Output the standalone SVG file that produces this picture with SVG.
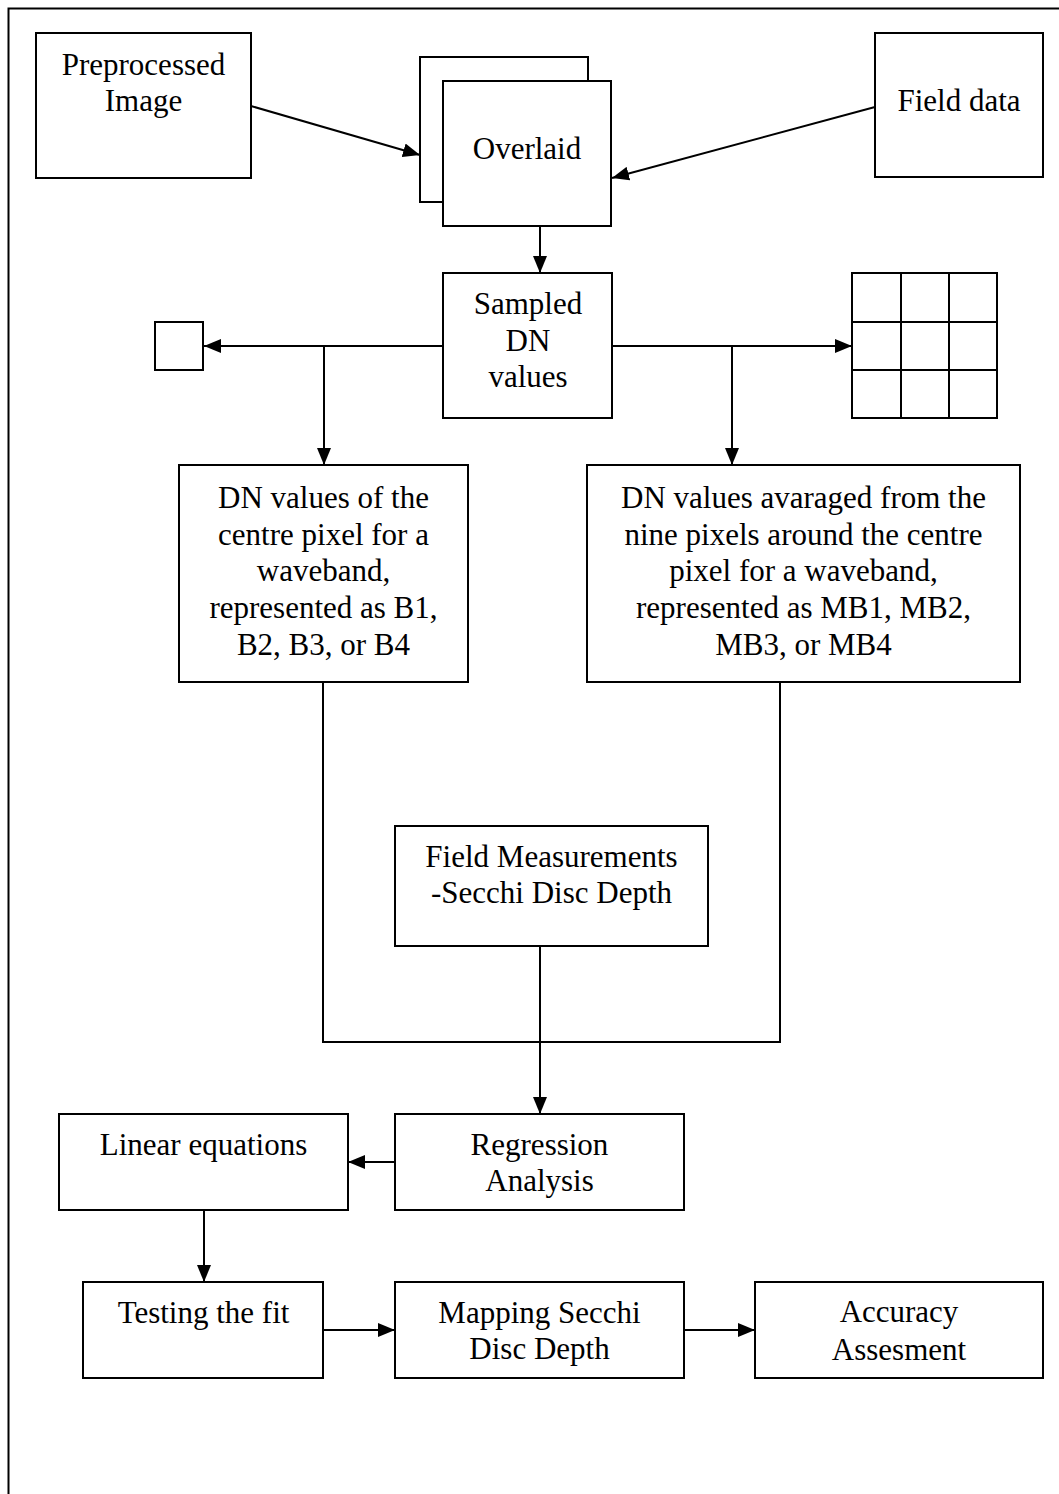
<svg xmlns="http://www.w3.org/2000/svg" width="1059" height="1494" viewBox="0 0 1059 1494">
<style>
.box{fill:#fff;stroke:#000;stroke-width:2}
.ln{fill:none;stroke:#000;stroke-width:2}
.t{font-family:"Liberation Serif","Times New Roman",serif;font-size:31px;fill:#000;text-anchor:middle}
</style>
<defs>
<marker id="ah" markerUnits="userSpaceOnUse" markerWidth="18" markerHeight="14" viewBox="0 0 18 14" refX="17" refY="7" orient="auto">
<path d="M0,0 L17,7 L0,14 Z" fill="#000"/>
</marker>
</defs>
<rect width="1059" height="1494" fill="#fff"/>
<rect x="8.5" y="8.5" width="1100" height="1600" class="ln"/>
<g id="connectors">
<line x1="251" y1="106" x2="420" y2="155" class="ln" marker-end="url(#ah)"/>
<line x1="875" y1="107" x2="612" y2="178" class="ln" marker-end="url(#ah)"/>
<line x1="540" y1="226" x2="540" y2="273" class="ln" marker-end="url(#ah)"/>
<line x1="443" y1="346" x2="204" y2="346" class="ln" marker-end="url(#ah)"/>
<line x1="324" y1="346" x2="324" y2="465" class="ln" marker-end="url(#ah)"/>
<line x1="612" y1="346" x2="852" y2="346" class="ln" marker-end="url(#ah)"/>
<line x1="732" y1="346" x2="732" y2="465" class="ln" marker-end="url(#ah)"/>
<polyline points="323,682 323,1042 780,1042 780,682" class="ln"/>
<line x1="540" y1="946" x2="540" y2="1114" class="ln" marker-end="url(#ah)"/>
<line x1="395" y1="1162" x2="348" y2="1162" class="ln" marker-end="url(#ah)"/>
<line x1="204" y1="1210" x2="204" y2="1282" class="ln" marker-end="url(#ah)"/>
<line x1="323" y1="1330" x2="395" y2="1330" class="ln" marker-end="url(#ah)"/>
<line x1="684" y1="1330" x2="755" y2="1330" class="ln" marker-end="url(#ah)"/>
</g>
<g id="preprocessed">
<rect x="36" y="33" width="215" height="145" class="box"/>
<text class="t" x="143.5" y="75">Preprocessed</text>
<text class="t" x="143.5" y="111">Image</text>
</g>
<g id="overlaid">
<rect x="420" y="57" width="168" height="145" class="box"/>
<rect x="443" y="81" width="168" height="145" class="box"/>
<text class="t" x="527" y="159">Overlaid</text>
</g>
<g id="fielddata">
<rect x="875" y="33" width="168" height="144" class="box"/>
<text class="t" x="959" y="111">Field data</text>
</g>
<g id="sampled">
<rect x="443" y="273" width="169" height="145" class="box"/>
<text class="t" x="528" y="314">Sampled</text>
<text class="t" x="528" y="351">DN</text>
<text class="t" x="528" y="387">values</text>
</g>
<g id="pixel">
<rect x="155" y="322" width="48" height="48" class="box"/>
</g>
<g id="grid">
<rect x="852" y="273" width="145" height="145" class="box"/>
<line x1="901" y1="273" x2="901" y2="418" class="ln"/>
<line x1="949" y1="273" x2="949" y2="418" class="ln"/>
<line x1="852" y1="322" x2="997" y2="322" class="ln"/>
<line x1="852" y1="370" x2="997" y2="370" class="ln"/>
</g>
<g id="dncentre">
<rect x="179" y="465" width="289" height="217" class="box"/>
<text class="t" x="323.5" y="508">DN values of the</text>
<text class="t" x="323.5" y="545">centre pixel for a</text>
<text class="t" x="323.5" y="581">waveband,</text>
<text class="t" x="323.5" y="618">represented as B1,</text>
<text class="t" x="323.5" y="655">B2, B3, or B4</text>
</g>
<g id="dnnine">
<rect x="587" y="465" width="433" height="217" class="box"/>
<text class="t" x="803.5" y="508">DN values avaraged from the</text>
<text class="t" x="803.5" y="545">nine pixels around the centre</text>
<text class="t" x="803.5" y="581">pixel for a waveband,</text>
<text class="t" x="803.5" y="618">represented as MB1, MB2,</text>
<text class="t" x="803.5" y="655">MB3, or MB4</text>
</g>
<g id="fieldmeas">
<rect x="395" y="826" width="313" height="120" class="box"/>
<text class="t" x="551.5" y="867">Field Measurements</text>
<text class="t" x="551.5" y="903">-Secchi Disc Depth</text>
</g>
<g id="regression">
<rect x="395" y="1114" width="289" height="96" class="box"/>
<text class="t" x="539.5" y="1155">Regression</text>
<text class="t" x="539.5" y="1191">Analysis</text>
</g>
<g id="linear">
<rect x="59" y="1114" width="289" height="96" class="box"/>
<text class="t" x="203.5" y="1155">Linear equations</text>
</g>
<g id="testing">
<rect x="83" y="1282" width="240" height="96" class="box"/>
<text class="t" x="203.5" y="1323">Testing the fit</text>
</g>
<g id="mapping">
<rect x="395" y="1282" width="289" height="96" class="box"/>
<text class="t" x="539.5" y="1323">Mapping Secchi</text>
<text class="t" x="539.5" y="1359">Disc Depth</text>
</g>
<g id="accuracy">
<rect x="755" y="1282" width="288" height="96" class="box"/>
<text class="t" x="899" y="1322">Accuracy</text>
<text class="t" x="899" y="1360">Assesment</text>
</g>
</svg>
